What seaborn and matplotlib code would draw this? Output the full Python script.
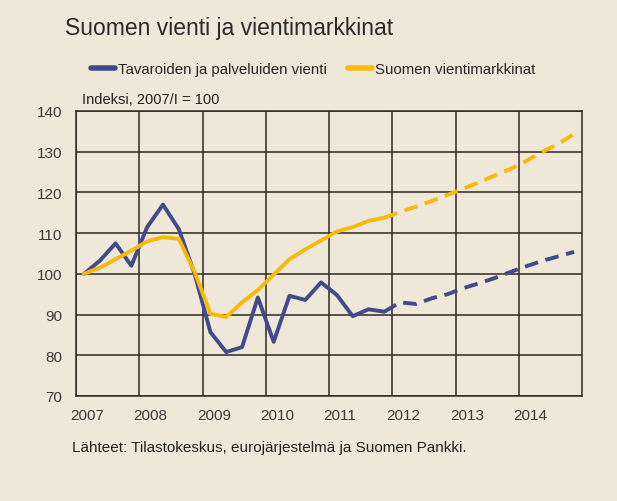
import matplotlib
matplotlib.use("Agg")
import matplotlib.pyplot as plt
import matplotlib.transforms as mtransforms
from matplotlib.lines import Line2D
import numpy as np
import pandas as pd
import seaborn as sns

# quarterly index, 2007/I = 100
years = [y for y in range(2007, 2015) for _ in range(4)]
quarters = [1, 2, 3, 4] * 8
n_actual = 20  # 2007/I - 2011/IV actual, rest forecast

exports = [100, 103.2, 107.5, 102, 111.5, 117, 111, 100,
           85.7, 80.8, 82, 94.2, 83.3, 94.6, 93.6, 97.9,
           94.8, 89.6, 91.3, 90.7,
           93, 92.6, 94, 95, 96.5, 97.7, 99, 100.5,
           101.9, 103.2, 104.3, 105.4]
markets = [100, 101.5, 103.6, 105.7, 108, 109, 108.6, 100.5,
           90.2, 89.4, 93, 96, 99.8, 103.6, 106, 108.2,
           110.4, 111.5, 113, 113.8,
           115.2, 116.5, 117.9, 119.4, 120.9, 122.5, 124.2, 125.8,
           127.8, 130, 131.9, 134.4]

labels = ["Tavaroiden ja palveluiden vienti", "Suomen vientimarkkinat"]
year_ticks = list(range(2007, 2015))
y_ticks = [70, 80, 90, 100, 110, 120, 130, 140]

bg = "#efe8d8"
grid_col = "#2f2a22"
blue = "#414a8c"
yellow = "#f7b90c"

sns.set_style("white", {"axes.facecolor": bg, "figure.facecolor": bg})
plt.rcParams["font.family"] = ["Liberation Sans", "DejaVu Sans"]

df = pd.DataFrame({"year": years, "q": quarters,
                   "exports": exports, "markets": markets})
df["t"] = df["year"] + (df["q"] - 0.5) / 4

fig = plt.figure(figsize=(6.17, 5.02), dpi=100)
ax = fig.add_axes([76 / 617, 1 - 397 / 502, (582 - 76) / 617, (397 - 112) / 502])

act = df.iloc[:n_actual]
fc = df.iloc[n_actual - 1:]
for col, c in [("exports", blue), ("markets", yellow)]:
    sns.lineplot(data=act, x="t", y=col, ax=ax, color=c, lw=2.8)
    sns.lineplot(data=fc, x="t", y=col, ax=ax, color=c, lw=2.8,
                 dashes=False, linestyle=(0, (3.5, 2)))

ax.set_xlim(2007, 2015)
ax.set_ylim(70, 140)
ax.set_xticks(year_ticks)
ax.set_xticklabels([str(y) for y in year_ticks], ha="left")
ax.set_yticks(y_ticks)
ax.set_xlabel("")
ax.set_ylabel("")
ax.grid(True, color=grid_col, lw=1.1)
for s in ax.spines.values():
    s.set_color(grid_col)
    s.set_linewidth(1.1)
ax.tick_params(length=0, labelsize=11, colors="#3a3a3a")
ax.tick_params(axis="y", pad=10)
ax.tick_params(axis="x", pad=9)
offset = mtransforms.ScaledTranslation(-4 / 72, 0, fig.dpi_scale_trans)
for lab in ax.get_xticklabels():
    lab.set_transform(lab.get_transform() + offset)

fig.text(65 / 617, 1 - 28 / 502, "Suomen vienti ja vientimarkkinat",
         fontsize=16.5, color="#2a2a2a", va="center", ha="left")
fig.text(82 / 617, 1 - 100 / 502, "Indeksi, 2007/I = 100",
         fontsize=10.5, color="#222222", va="center", ha="left")
fig.text(72 / 617, 1 - 448 / 502,
         "Lähteet: Tilastokeskus, eurojärjestelmä ja Suomen Pankki.",
         fontsize=11, color="#222222", va="center", ha="left")

handles = [Line2D([], [], color=blue, lw=4), Line2D([], [], color=yellow, lw=4)]
fig.legend(handles, labels, loc="center left", bbox_to_anchor=(78 / 617, 1 - 70 / 502),
           ncol=2, frameon=False, fontsize=10.8, handlelength=1.55,
           handletextpad=0.25, columnspacing=1.4)

fig.savefig("out.png", dpi=100, facecolor=bg)
